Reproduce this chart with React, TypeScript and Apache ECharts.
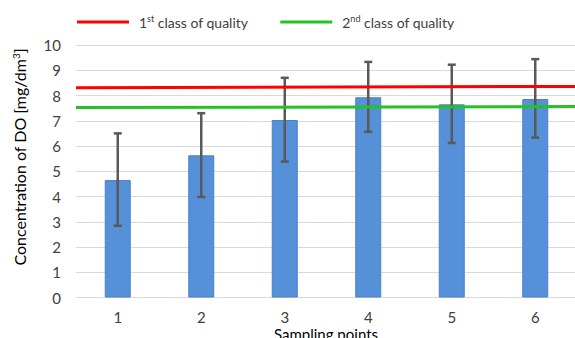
import React, { useEffect, useRef } from "react";
import * as echarts from "echarts";

// Sampling points on the x axis
const categories = ["1", "2", "3", "4", "5", "6"];
// Mean dissolved oxygen concentration [mg/dm3]
const meanDO = [4.65, 5.63, 7.03, 7.93, 7.65, 7.86];
// Error bar bounds (low, high)
const errLow = [2.84, 3.98, 5.38, 6.56, 6.12, 6.33];
const errHigh = [6.5, 7.3, 8.7, 9.33, 9.22, 9.44];
// Quality class thresholds, drawn across the whole plot (start, end)
const class1Line = [8.31, 8.36];
const class2Line = [7.52, 7.56];
const yTicks = { min: 0, max: 10, interval: 1 };

const FONT = "Lato";

export default function App() {
  const ref = useRef<HTMLDivElement>(null);

  useEffect(() => {
    if (!ref.current) return;
    const chart = echarts.init(ref.current, null, { renderer: "svg" });

    const errData = categories.map((_, i) => [i, errLow[i], errHigh[i]]);

    chart.setOption({
      animation: false,
      backgroundColor: "#ffffff",
      textStyle: { fontFamily: FONT },
      grid: { left: 76, top: 45, width: 501, height: 252.5, outerBoundsMode: "none", containLabel: false },
      legend: {
        left: 72,
        top: 9,
        icon: "rect",
        itemWidth: 52,
        itemHeight: 3,
        itemGap: 32,
        data: ["1st class of quality", "2nd class of quality"],
        formatter: (name: string) =>
          name.startsWith("1st")
            ? "1{sup|st} class of quality"
            : "2{sup|nd} class of quality",
        textStyle: {
          fontFamily: FONT,
          fontSize: 14,
          color: "#404040",
          padding: [0, 0, 0, 5],
          rich: {
            sup: { fontSize: 9, verticalAlign: "top", padding: [0, 0, 7, 0], color: "#404040", fontFamily: FONT },
          },
        },
      },
      xAxis: [
        {
          type: "category",
          data: categories,
          axisLine: { lineStyle: { color: "#d9d9d9", width: 1 } },
          axisTick: { show: false },
          axisLabel: { color: "#404040", fontSize: 15, fontFamily: FONT, margin: 12 },
        },
        { type: "value", min: 0, max: 1, show: false },
      ],
      yAxis: {
        type: "value",
        min: yTicks.min,
        max: yTicks.max,
        interval: yTicks.interval,
        axisLine: { show: false },
        axisTick: { show: false },
        axisLabel: { color: "#404040", fontSize: 15, fontFamily: FONT, margin: 15 },
        splitLine: { lineStyle: { color: "#d9d9d9", width: 1 } },
      },
      graphic: [
        {
          type: "text",
          x: 19,
          y: 157,
          rotation: Math.PI / 2,
          style: {
            text: "Concentration of DO [mg/dm{sup|3}]",
            fontFamily: FONT,
            fontSize: 16,
            fill: "#000000",
            align: "center",
            verticalAlign: "middle",
            rich: {
              sup: { fontSize: 10, verticalAlign: "top", padding: [0, 0, 7, 0], fill: "#000000", fontFamily: FONT },
            },
          },
        },
        {
          type: "text",
          x: 326,
          y: 326,
          style: {
            text: "Sampling points",
            fontFamily: FONT,
            fontSize: 15,
            fill: "#000000",
            align: "center",
            verticalAlign: "top",
          },
        },
      ],
      series: [
        {
          type: "bar",
          data: meanDO,
          barWidth: 26,
          itemStyle: { color: "#5590D8", borderColor: "#4A7FCC", borderWidth: 1 },
          z: 2,
        },
        {
          type: "custom",
          data: errData,
          z: 3,
          renderItem: (params: any, api: any) => {
            const x = api.coord([api.value(0), 0])[0];
            const lo = api.coord([api.value(0), api.value(1)])[1];
            const hi = api.coord([api.value(0), api.value(2)])[1];
            const cap = 4;
            const style = { stroke: "#595959", lineWidth: 2.5 };
            return {
              type: "group",
              children: [
                { type: "line", shape: { x1: x, y1: lo, x2: x, y2: hi }, style },
                { type: "line", shape: { x1: x - cap, y1: hi, x2: x + cap, y2: hi }, style },
                { type: "line", shape: { x1: x - cap, y1: lo, x2: x + cap, y2: lo }, style },
              ],
            };
          },
        },
        {
          name: "1st class of quality",
          type: "line",
          xAxisIndex: 1,
          data: [
            [0, class1Line[0]],
            [1, class1Line[1]],
          ],
          symbol: "none",
          lineStyle: { color: "#FF0000", width: 3 },
          itemStyle: { color: "#FF0000" },
          z: 4,
        },
        {
          name: "2nd class of quality",
          type: "line",
          xAxisIndex: 1,
          data: [
            [0, class2Line[0]],
            [1, class2Line[1]],
          ],
          symbol: "none",
          lineStyle: { color: "#22C322", width: 3 },
          itemStyle: { color: "#22C322" },
          z: 4,
        },
      ],
    });

    return () => chart.dispose();
  }, []);

  return (
    <div
      ref={ref}
      style={{ position: "fixed", left: 0, top: 0, width: 575, height: 338, background: "#fff" }}
    />
  );
}
